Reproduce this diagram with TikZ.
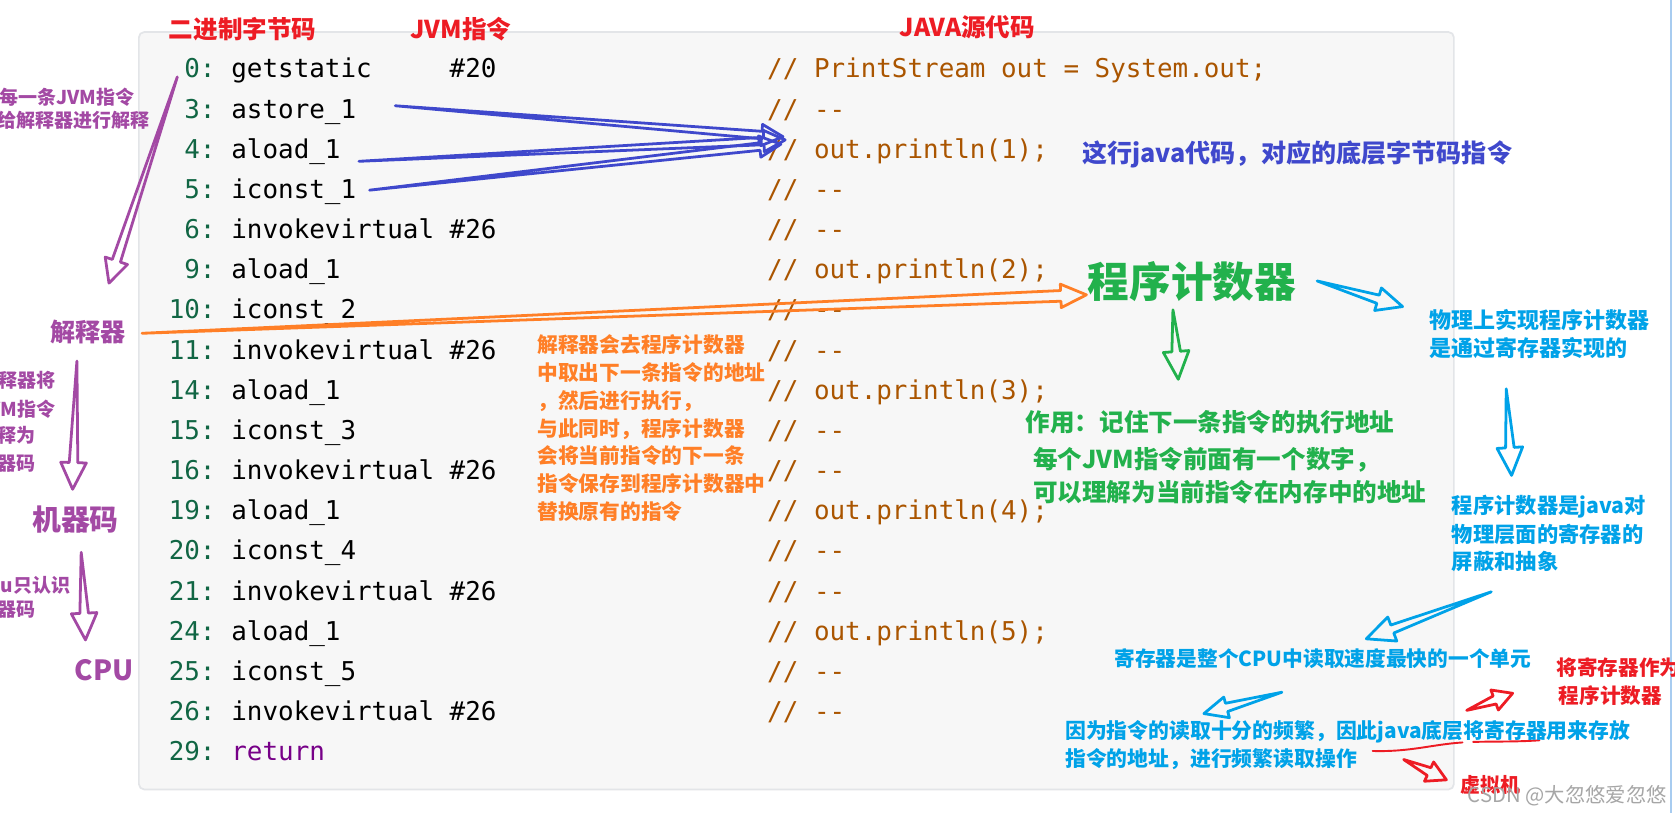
\documentclass[tikz,border=0pt]{standalone}
\usepackage{fontspec}
\setmonofont{DejaVu Sans Mono}
\newfontfamily\cjk{Noto Sans CJK SC}
\usetikzlibrary{calc}
\definecolor{boxbg}{HTML}{F7F7F7}
\definecolor{boxline}{HTML}{E3E5E8}
\definecolor{cnum}{HTML}{116644}
\definecolor{ccom}{HTML}{AA5500}
\definecolor{ckey}{HTML}{770088}
\definecolor{cred}{HTML}{ED1C24}
\definecolor{cpurple}{HTML}{A349A4}
\definecolor{corange}{HTML}{FF7F27}
\definecolor{cgreen}{HTML}{22B14C}
\definecolor{cdblue}{HTML}{3F48CC}
\definecolor{clblue}{HTML}{00A2E8}
\definecolor{cedge}{HTML}{A8CCF0}
\newcommand\fsz[1]{\fontsize{#1}{#1}\selectfont}
\newcommand\harrow[6]{%
  \coordinate (hb) at ($(#3)!#6!(#2)$);
  \draw[harr,#1] (#2) -- ($(hb)!#4!90:(#3)$) -- ($(hb)!#5!90:(#3)$) -- (#3)
     -- ($(hb)!#5!-90:(#3)$) -- ($(hb)!#4!-90:(#3)$) -- cycle;}
\tikzset{
  code/.style={inner sep=0pt, font=\ttfamily\fsz{24.25pt}},
  ann/.style={inner sep=0pt, anchor=base west},
  annE/.style={inner sep=0pt, anchor=base east},
  harr/.style={line width=2.6pt, line join=round, fill=none},
}
\begin{document}
\begin{tikzpicture}[x=1pt,y=-1pt]
\useasboundingbox (0,0) rectangle (1568,761);
\clip (0,0) rectangle (1568,761);
\fill[white] (0,0) rectangle (1568,761);
\draw[cedge, line width=1.5pt] (1564.5,0) -- (1564.5,761);
% code box
\draw[rounded corners=5pt, fill=boxbg, draw=boxline, line width=1.6pt] (130,30) rectangle (1361,739);
% code rows
\foreach \n/\ins/\cm [count=\i from 0] in {
  0/getstatic~~~~~\#20/PrintStream out = System.out;,
  3/astore\_1/-{}-,
  4/aload\_1/out.println(1);,
  5/iconst\_1/-{}-,
  6/invokevirtual \#26/-{}-,
  9/aload\_1/out.println(2);,
  10/iconst\_2/-{}-,
  11/invokevirtual \#26/-{}-,
  14/aload\_1/out.println(3);,
  15/iconst\_3/-{}-,
  16/invokevirtual \#26/-{}-,
  19/aload\_1/out.println(4);,
  20/iconst\_4/-{}-,
  21/invokevirtual \#26/-{}-,
  24/aload\_1/out.println(5);,
  25/iconst\_5/-{}-,
  26/invokevirtual \#26/-{}-} {
  \pgfmathsetmacro\yb{64+37.6*\i+9}
  \node[code, text=cnum, anchor=base east] (n\i) at (202,\yb) {\n:};
  \node[code, anchor=base west] (c\i) at (216.4,\yb) {\ins};
  \node[code, text=ccom, anchor=base west] (m\i) at (718,\yb) {// \cm};
}
\pgfmathsetmacro\yb{64+37.6*17+9}
\node[code, text=cnum, anchor=base east] (n17) at (202,\yb) {29:};
\node[code, text=ckey, anchor=base west] (c17) at (216.4,\yb) {return};

% arrow end points
\coordinate (pa1t) at (166,72);   \coordinate (pa1h) at (102,265);
\coordinate (pa2t) at (72,338);   \coordinate (pa2h) at (68,458);
\coordinate (pa3t) at (76,517);   \coordinate (pa3h) at (80,599);
\coordinate (ba1t) at (370,99);   \coordinate (ba1h) at (733,128);
\coordinate (ba2t) at (336,151);  \coordinate (ba2h) at (735,131);
\coordinate (ba3t) at (346,178);  \coordinate (ba3h) at (731,135);
\coordinate (oat) at (133,312);   \coordinate (oah) at (1017,276);
\coordinate (gat) at (1098,290);  \coordinate (gah) at (1103,355);
\coordinate (la1t) at (1233,263); \coordinate (la1h) at (1313,287);
\coordinate (la2t) at (1410,364); \coordinate (la2h) at (1415,445);
\coordinate (la3t) at (1396,554); \coordinate (la3h) at (1279,598);
\coordinate (la4t) at (1200,648); \coordinate (la4h) at (1127,668);
\coordinate (ra1t) at (1373,665); \coordinate (ra1h) at (1416,649);
\coordinate (ra2t) at (1314,711); \coordinate (ra2h) at (1354,730);

\harrow{draw=cpurple}{pa1t}{pa1h}{4pt}{11pt}{22pt}
\harrow{draw=cpurple}{pa2t}{pa2h}{4pt}{12pt}{25pt}
\harrow{draw=cpurple}{pa3t}{pa3h}{4pt}{12pt}{25pt}
\harrow{draw=cdblue}{ba1t}{ba1h}{3.5pt}{10pt}{20pt}
\harrow{draw=cdblue}{ba2t}{ba2h}{3.5pt}{10pt}{20pt}
\harrow{draw=cdblue}{ba3t}{ba3h}{3.5pt}{10pt}{20pt}
\harrow{draw=corange}{oat}{oah}{5pt}{11pt}{24pt}
\harrow{draw=cgreen}{gat}{gah}{4pt}{12pt}{26pt}
\harrow{draw=clblue}{la1t}{la1h}{4pt}{11pt}{24pt}
\harrow{draw=clblue}{la2t}{la2h}{4pt}{12pt}{26pt}
\harrow{draw=clblue}{la3t}{la3h}{4pt}{12pt}{26pt}
\harrow{draw=clblue}{la4t}{la4h}{4pt}{10pt}{22pt}
\harrow{draw=cred}{ra1t}{ra1h}{4pt}{10pt}{18pt}
\harrow{draw=cred}{ra2t}{ra2h}{4pt}{10pt}{18pt}

% red underlines
\draw[cred, line width=1.8pt, line cap=round] (1285,703) .. controls (1320,704) and (1340,697) .. (1369,695);
\draw[cred, line width=1.8pt, line cap=round] (1379,694.5) .. controls (1400,694) and (1420,694.5) .. (1441,693);

% headers
\begin{scope}[every node/.append style={text=cred, font=\cjk\bfseries\fsz{23pt}}]
\node[ann] (h1) at (158,36.5) {二进制字节码};
\node[ann] (h2) at (384,36.5) {JVM指令};
\node[ann] (h3) at (842,34.5) {JAVA源代码};
\end{scope}

% purple texts
\begin{scope}[every node/.append style={text=cpurple, font=\cjk\bfseries\fsz{17.8pt}}]
\node[annE] (p1) at (126,97.5) {每一条JVM指令};
\node[annE] (p2) at (140,119.5) {给解释器进行解释};
\node[annE] (p4) at (52,362.5) {解释器将};
\node[annE] (p5) at (52,389.5) {JVM指令};
\node[annE] (p6) at (33,414.5) {解释为};
\node[annE] (p7) at (33,440.5) {机器码};
\node[annE] (p9) at (66,554.5) {cpu只认识};
\node[annE] (p10) at (33,577.5) {机器码};
\end{scope}
\node[ann, text=cpurple, font=\cjk\bfseries\fsz{23.5pt}] (p3) at (47,319.7) {解释器};
\node[ann, text=cpurple, font=\cjk\bfseries\fsz{27pt}] (p8) at (30,497) {机器码};
\node[ann, text=cpurple, font=\cjk\bfseries\fsz{26pt}] (p11) at (70,637.3) {CPU};

% dark blue
\node[ann, text=cdblue, font=\cjk\bfseries\fsz{23.5pt}] (b1) at (1013,151.7) {这行java代码，对应的底层字节码指令};

% green
\node[ann, text=cgreen, font=\cjk\bfseries\fsz{39pt}] (pc) at (1018,278.4) {程序计数器};
\begin{scope}[every node/.append style={text=cgreen, font=\cjk\bfseries\fsz{23pt}}]
\node[ann] (g1) at (960,403.5) {作用：记住下一条指令的执行地址};
\node[ann] (g2) at (967,438.5) {每个JVM指令前面有一个数字，};
\node[ann] (g3) at (967,469.5) {可以理解为当前指令在内存中的地址};
\end{scope}

% orange
\foreach \t [count=\k from 0] in {解释器会去程序计数器, 中取出下一条指令的地址, ，然后进行执行，, 与此同时，程序计数器, 会将当前指令的下一条, 指令保存到程序计数器中, 替换原有的指令} {
  \node[ann, text=corange, font=\cjk\bfseries\fsz{19.4pt}] (o\k) at (503,{323+26*\k+7.2}) {\t};
}

% light blue
\begin{scope}[every node/.append style={text=clblue, font=\cjk\bfseries\fsz{20.6pt}}]
\node[ann] (l1) at (1338,307.6) {物理上实现程序计数器};
\node[ann] (l2) at (1338,333.6) {是通过寄存器实现的};
\end{scope}
\begin{scope}[every node/.append style={text=clblue, font=\cjk\bfseries\fsz{19.9pt}}]
\node[ann] (l3) at (1359,480.4) {程序计数器是java对};
\node[ann] (l4) at (1359,507.4) {物理层面的寄存器的};
\node[ann] (l5) at (1359,533.4) {屏蔽和抽象};
\end{scope}
\begin{scope}[every node/.append style={text=clblue, font=\cjk\bfseries\fsz{19.5pt}}]
\node[ann] (l7) at (997,691.2) {因为指令的读取十分的频繁，因此java底层将寄存器用来存放};
\node[ann] (l8) at (997,717.2) {指令的地址，进行频繁读取操作};
\end{scope}
\node[ann, text=clblue, font=\cjk\bfseries\fsz{19.4pt}] (l6) at (1043,624.2) {寄存器是整个CPU中读取速度最快的一个单元};

% red right
\begin{scope}[every node/.append style={text=cred, font=\cjk\bfseries\fsz{19.3pt}}]
\node[ann] (r1) at (1457,632.1) {将寄存器作为};
\node[ann] (r2) at (1459,658.1) {程序计数器};
\end{scope}
\node[ann, text=cred, font=\cjk\bfseries\fsz{18.7pt}] (r3) at (1367,741.9) {虚拟机};

% watermark
\node[ann, text=black!35, font=\cjk\fsz{19pt}] (wm) at (1374,751) {CSDN @大忽悠爱忽悠};
\end{tikzpicture}
\end{document}
